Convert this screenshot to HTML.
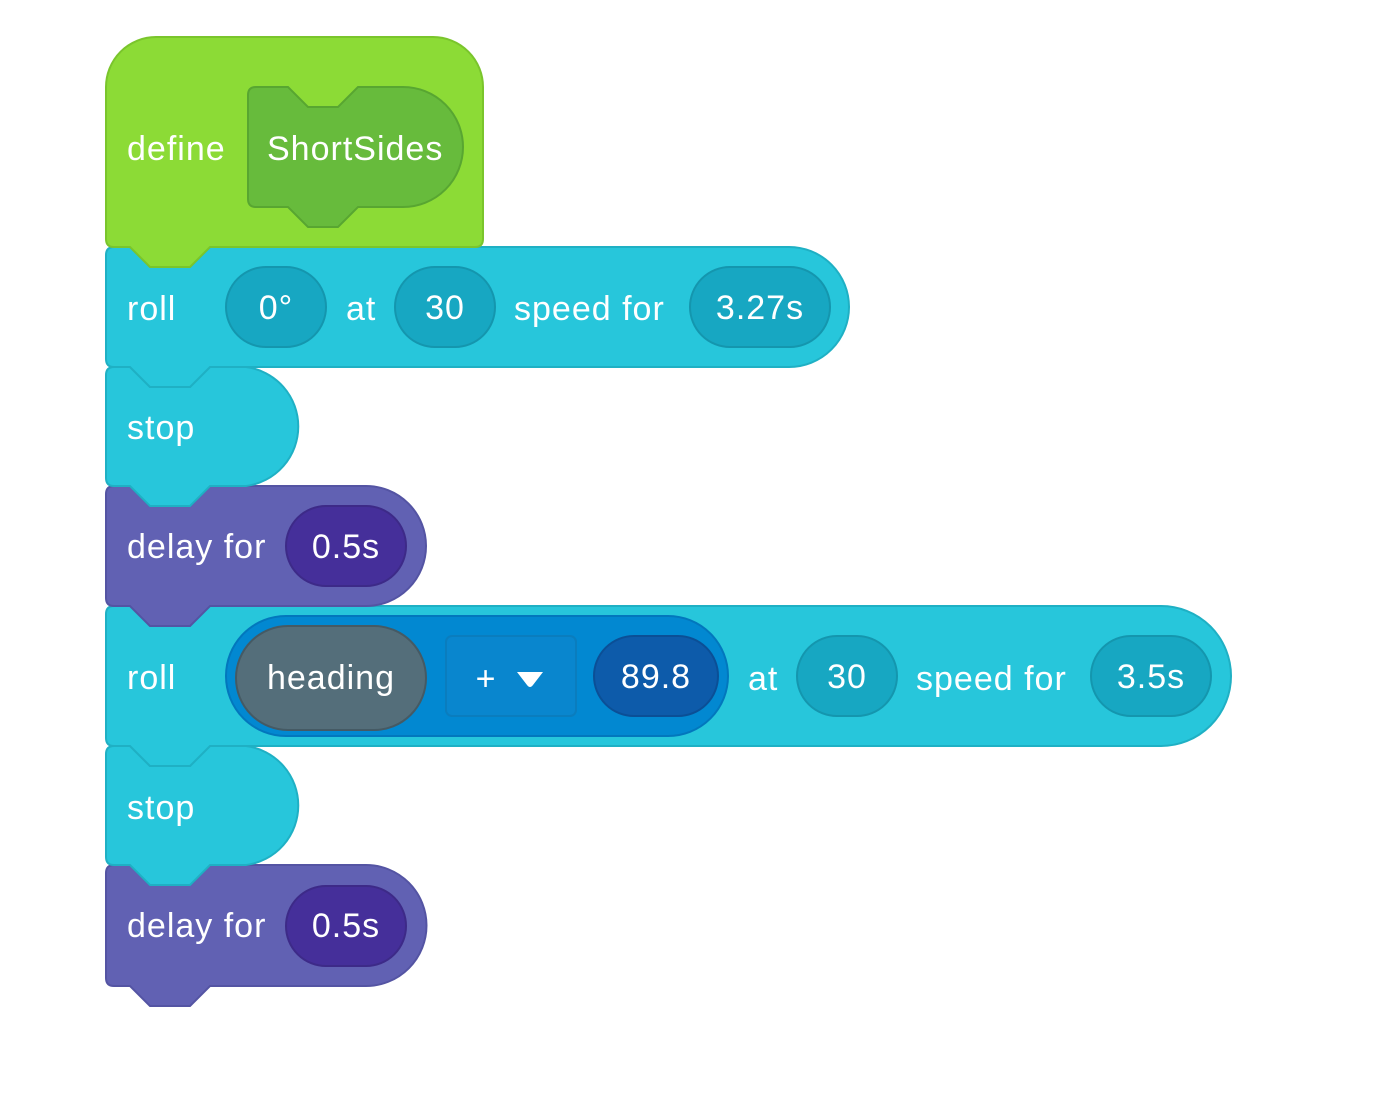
<!DOCTYPE html>
<html><head><meta charset="utf-8"><style>
html,body{margin:0;padding:0;background:#fff;}
svg text{font-family:"Liberation Sans",sans-serif;font-size:34px;fill:#fff;dominant-baseline:central;letter-spacing:1px;}
</style></head><body>
<svg width="1382" height="1091" viewBox="0 0 1382 1091" xmlns="http://www.w3.org/2000/svg">
<!-- delay2 -->
<path d="M114,865 H130 L150,885 H190 L210,865 H366 A60,60 0 0 1 366,986 H210 L190,1006 H150 L130,986 H114 Q106,986 106,978 V873 Q106,865 114,865 Z" fill="#6161B3" stroke="#5454A3" stroke-width="2"/>
<!-- stop2 -->
<path d="M114,746 H130 L150,766 H190 L210,746 H246 A60,60 0 0 1 246,865 H210 L190,885 H150 L130,865 H114 Q106,865 106,857 V754 Q106,746 114,746 Z" fill="#27C6DB" stroke="#1FB0C4" stroke-width="2"/>
<!-- roll2 -->
<path d="M114,606 H130 L150,626 H190 L210,606 H1161 A70,70 0 0 1 1161,746 H210 L190,766 H150 L130,746 H114 Q106,746 106,738 V614 Q106,606 114,606 Z" fill="#27C6DB" stroke="#1FB0C4" stroke-width="2"/>
<!-- delay1 -->
<path d="M114,486 H130 L150,506 H190 L210,486 H366 A60,60 0 0 1 366,606 H210 L190,626 H150 L130,606 H114 Q106,606 106,598 V494 Q106,486 114,486 Z" fill="#6161B3" stroke="#5454A3" stroke-width="2"/>
<!-- stop1 -->
<path d="M114,367 H130 L150,387 H190 L210,367 H246 A60,60 0 0 1 246,486 H210 L190,506 H150 L130,486 H114 Q106,486 106,478 V375 Q106,367 114,367 Z" fill="#27C6DB" stroke="#1FB0C4" stroke-width="2"/>
<!-- roll1 -->
<path d="M114,247 H130 L150,267 H190 L210,247 H789 A60,60 0 0 1 789,367 H210 L190,387 H150 L130,367 H114 Q106,367 106,359 V255 Q106,247 114,247 Z" fill="#27C6DB" stroke="#1FB0C4" stroke-width="2"/>
<!-- define -->
<path d="M156,37 H433 A50,50 0 0 1 483,87 V239 Q483,247 475,247 H210 L190,267 H150 L130,247 H114 Q106,247 106,239 V87 A50,50 0 0 1 156,37 Z" fill="#8CDB36" stroke="#7AC52C" stroke-width="2"/>
<path d="M256,87 H288 L308,107 H338 L358,87 H403 A60,60 0 0 1 403,207 H358 L338,227 H308 L288,207 H256 Q248,207 248,199 V95 Q248,87 256,87 Z" fill="#67BB3C" stroke="#58A631" stroke-width="2"/>
<text x="127" y="149">define</text>
<text x="267" y="149">ShortSides</text>
<!-- roll1 content -->
<text x="127" y="309">roll</text>
<rect x="226" y="267" width="100" height="80" rx="40" fill="#17A7C2" stroke="#1496AE" stroke-width="2"/>
<text x="276" y="308" text-anchor="middle">0°</text>
<text x="346" y="309">at</text>
<rect x="395" y="267" width="100" height="80" rx="40" fill="#17A7C2" stroke="#1496AE" stroke-width="2"/>
<text x="445" y="308" text-anchor="middle">30</text>
<text x="514" y="309">speed for</text>
<rect x="690" y="267" width="140" height="80" rx="40" fill="#17A7C2" stroke="#1496AE" stroke-width="2"/>
<text x="760" y="308" text-anchor="middle">3.27s</text>
<text x="127" y="428">stop</text>
<text x="127" y="547">delay for</text>
<rect x="286" y="506" width="120" height="80" rx="40" fill="#452F9A" stroke="#3D2A88" stroke-width="2"/>
<text x="346" y="547" text-anchor="middle">0.5s</text>
<!-- roll2 content -->
<text x="127" y="678">roll</text>
<rect x="226" y="616" width="502" height="120" rx="60" fill="#0288D1" stroke="#0277BD" stroke-width="2"/>
<rect x="236" y="626" width="190" height="104" rx="52" fill="#546E7A" stroke="#455A64" stroke-width="2"/>
<text x="331" y="678" text-anchor="middle">heading</text>
<rect x="446" y="636" width="130" height="80" rx="6" fill="#0986CE" stroke="#0A7DBE" stroke-width="2"/>
<text x="486" y="679" text-anchor="middle">+</text>
<path d="M517,672 H543 L533,685 Q530,689 527,685 Z" fill="#fff"/>
<rect x="594" y="636" width="124" height="80" rx="40" fill="#0D5BAA" stroke="#0B4F96" stroke-width="2"/>
<text x="656" y="677" text-anchor="middle">89.8</text>
<text x="748" y="679">at</text>
<rect x="797" y="636" width="100" height="80" rx="40" fill="#17A7C2" stroke="#1496AE" stroke-width="2"/>
<text x="847" y="677" text-anchor="middle">30</text>
<text x="916" y="679">speed for</text>
<rect x="1091" y="636" width="120" height="80" rx="40" fill="#17A7C2" stroke="#1496AE" stroke-width="2"/>
<text x="1151" y="677" text-anchor="middle">3.5s</text>
<text x="127" y="808">stop</text>
<text x="127" y="926">delay for</text>
<rect x="286" y="886" width="120" height="80" rx="40" fill="#452F9A" stroke="#3D2A88" stroke-width="2"/>
<text x="346" y="926" text-anchor="middle">0.5s</text>
</svg>
</body></html>
